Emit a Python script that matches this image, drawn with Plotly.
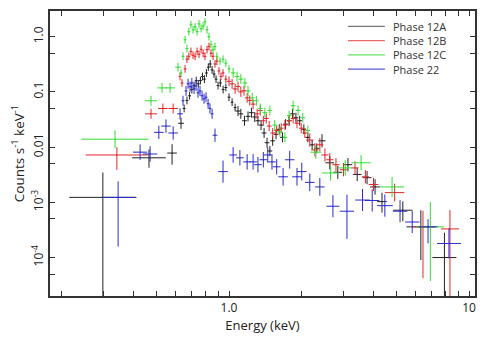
import plotly.graph_objects as go

# ---------------- data (Energy keV, Counts s^-1 keV^-1) ----------------
series_names = ["Phase 12A", "Phase 12B", "Phase 12C", "Phase 22"]
series_colors = ["#222222", "#e4262b", "#33dd33", "#2b2bd0"]
legend_colors = ["#777777", "#ec6a6a", "#66e066", "#5a5ad8"]

black_energy = [0.298, 0.464, 0.579, 0.631, 0.650, 0.668, 0.685, 0.70, 0.715, 0.73, 0.745, 0.76,
                0.775, 0.79, 0.805, 0.82, 0.835, 0.85, 0.866, 0.883, 0.90, 0.92, 0.945, 0.97,
                1.0, 1.03, 1.06, 1.09, 1.12, 1.16, 1.20, 1.24, 1.28, 1.32, 1.36, 1.40, 1.44,
                1.48, 1.52, 1.57, 1.62, 1.67, 1.72, 1.78, 1.84, 1.90, 1.97, 2.05, 2.13, 2.22,
                2.32, 2.44, 2.63, 2.84, 3.13, 3.42, 3.76, 4.06, 4.34, 5.3, 6.3, 7.9]
black_counts = [0.00123, 0.0064, 0.0078, 0.027, 0.05, 0.07, 0.085, 0.11, 0.13, 0.16, 0.14, 0.16,
                0.19, 0.17, 0.22, 0.28, 0.32, 0.25, 0.21, 0.17, 0.13, 0.145, 0.11, 0.12,
                0.08, 0.065, 0.052, 0.045, 0.04, 0.03, 0.036, 0.042, 0.035, 0.03, 0.025, 0.018, 0.012,
                0.0085, 0.013, 0.017, 0.021, 0.015, 0.026, 0.03, 0.04, 0.034, 0.03, 0.021, 0.015, 0.011,
                0.0095, 0.013, 0.0052, 0.0035, 0.0048, 0.0032, 0.0028, 0.0019, 0.00103, 0.00072, 0.00036, 0.0001]
black_xerr = [0.14, 0.07, 0.02, 0.012] + [0.006] * 23 + [0.01] * 24 + [0.015] + [0.018] * 5 + \
             [0.02, 0.02, 0.04, 0.06, 0.05]
black_yup = [0.45, 0.15, 0.16, 0.1] + [0.07] * 23 + [0.09] * 24 + [0.12] * 6 + [0.14, 0.16, 0.16, 0.3, 0.45]
black_ydn = [3.0, 0.18, 0.21, 0.1] + [0.07] * 23 + [0.09] * 24 + [0.12] * 6 + [0.14, 0.2, 0.2, 0.6, 3.0]

red_energy = [0.341, 0.473, 0.53, 0.585, 0.625, 0.637, 0.656, 0.668, 0.68, 0.694, 0.708, 0.722,
              0.736, 0.75, 0.765, 0.78, 0.794, 0.81, 0.825, 0.841, 0.858, 0.874, 0.89, 0.908,
              0.926, 0.944, 0.97, 1.0, 1.03, 1.06, 1.09, 1.12, 1.155, 1.19, 1.22, 1.26, 1.31,
              1.35, 1.39, 1.43, 1.47, 1.52, 1.58, 1.65, 1.71, 1.78, 1.85, 1.92, 2.0, 2.07,
              2.17, 2.28, 2.39, 2.51, 2.63, 2.79, 3.0, 3.35, 3.7, 4.0, 4.9, 6.43, 8.33]
red_counts = [0.0072, 0.040, 0.05, 0.05, 0.19, 0.145, 0.26, 0.39, 0.44, 0.54, 0.46, 0.44,
              0.54, 0.48, 0.59, 0.5, 0.44, 0.58, 0.66, 0.5, 0.44, 0.32, 0.36, 0.24,
              0.19, 0.22, 0.17, 0.155, 0.14, 0.113, 0.125, 0.1, 0.105, 0.078, 0.07, 0.06, 0.04,
              0.046, 0.03, 0.033, 0.024, 0.018, 0.02, 0.022, 0.025, 0.03, 0.033, 0.027, 0.022, 0.018,
              0.0134, 0.0089, 0.011, 0.0072, 0.0059, 0.0048, 0.0039, 0.0042, 0.0029, 0.0021,
              0.0015, 0.00036, 0.00033]
red_xerr = [0.13, 0.025, 0.02, 0.02] + [0.006] * 23 + [0.01] * 23 + [0.015] * 9 + [0.02] + [0.04, 0.045, 0.038]
red_yup = [0.14, 0.09, 0.09, 0.09] + [0.07] * 23 + [0.09] * 23 + [0.12] * 10 + [0.16, 0.29, 0.34]
red_ydn = [0.27, 0.09, 0.09, 0.09] + [0.07] * 23 + [0.09] * 23 + [0.12] * 10 + [0.16, 0.93, 3.0]

green_energy = [0.335, 0.473, 0.526, 0.568, 0.613, 0.631, 0.643, 0.656, 0.668, 0.68, 0.694, 0.708,
                0.722, 0.736, 0.75, 0.765, 0.78, 0.794, 0.81, 0.825, 0.841, 0.858, 0.874, 0.89,
                0.917, 0.944, 0.97, 1.0, 1.04, 1.08, 1.12, 1.165, 1.2, 1.25, 1.3, 1.35, 1.41,
                1.48, 1.55, 1.63, 1.71, 1.78, 1.85, 1.94, 2.03, 2.13, 2.3, 2.65, 3.05, 3.55, 4.78, 6.9]
green_counts = [0.0139, 0.069, 0.118, 0.118, 0.28, 0.22, 0.44, 0.88, 0.61, 1.23, 1.64, 1.33,
                1.5, 1.23, 1.7, 1.4, 1.55, 1.85, 1.33, 1.0, 0.72, 0.58, 0.66, 0.44,
                0.36, 0.39, 0.33, 0.26, 0.22, 0.19, 0.17, 0.145, 0.104, 0.078, 0.069, 0.05, 0.042,
                0.046, 0.025, 0.019, 0.015, 0.037, 0.056, 0.046, 0.034, 0.02, 0.0081, 0.0034,
                0.0042, 0.0052, 0.0019, 0.00036]
green_xerr = [0.14, 0.025, 0.02, 0.02, 0.012] + [0.006] * 23 + [0.01] * 18 + [0.023, 0.035, 0.03, 0.04, 0.05, 0.058]
green_yup = [0.16, 0.09, 0.09, 0.09, 0.08] + [0.07] * 23 + [0.09] * 18 + [0.12, 0.14, 0.14, 0.14, 0.18, 0.45]
green_ydn = [0.16, 0.09, 0.09, 0.09, 0.08] + [0.07] * 23 + [0.09] * 18 + [0.12, 0.14, 0.14, 0.14, 0.18, 0.98]

blue_energy = [0.345, 0.426, 0.469, 0.51, 0.546, 0.585, 0.625, 0.643, 0.662, 0.675, 0.688, 0.70,
               0.715, 0.729, 0.743, 0.757, 0.772, 0.787, 0.802, 0.818, 0.833, 0.85, 0.874, 0.944,
               1.04, 1.11, 1.19, 1.26, 1.32, 1.39, 1.45, 1.51, 1.58, 1.68, 1.79, 1.92, 2.01,
               2.17, 2.39, 2.71, 3.1, 3.6, 3.95, 4.46, 5.16, 5.8, 6.75, 8.25]
blue_counts = [0.00123, 0.0081, 0.0075, 0.0185, 0.024, 0.018, 0.04, 0.069, 0.104, 0.14, 0.124, 0.145,
               0.113, 0.128, 0.096, 0.104, 0.085, 0.075, 0.08, 0.061, 0.05, 0.04, 0.0164, 0.0036,
               0.0072, 0.0064, 0.0054, 0.0054, 0.0048, 0.0059, 0.0072, 0.0054, 0.0044, 0.0029,
               0.0059, 0.0029, 0.0036, 0.0023, 0.0019, 0.00085, 0.00069, 0.0011, 0.00108,
               0.00087, 0.00069, 0.00044, 0.00036, 0.00018]
blue_xerr = [0.07, 0.03, 0.03, 0.02, 0.02, 0.02, 0.012] + [0.006] * 15 + [0.01, 0.02] + [0.016] * 9 + \
            [0.02] * 6 + [0.027, 0.03, 0.03, 0.03, 0.033, 0.03, 0.03, 0.04, 0.05]
blue_yup = [0.29, 0.14, 0.14, 0.12, 0.12, 0.12, 0.1] + [0.09] * 15 + [0.12, 0.2] + [0.14] * 9 + \
           [0.16] * 6 + [0.2, 0.3, 0.2, 0.2, 0.2, 0.2, 0.2, 0.14, 0.27]
blue_ydn = [0.89, 0.14, 0.14, 0.12, 0.12, 0.12, 0.1] + [0.09] * 15 + [0.12, 0.2] + [0.14] * 9 + \
           [0.16] * 6 + [0.2, 0.5, 0.2, 0.2, 0.2, 0.2, 0.2, 0.3, 0.27]

x_major_vals = [1, 10]
x_major_text = ["1.0", "10"]
x_minor_vals = [0.2, 0.3, 0.4, 0.5, 0.6, 0.7, 0.8, 0.9, 2, 3, 4, 5, 6, 7, 8, 9]
y_major_vals = [1e-4, 1e-3, 1e-2, 0.1, 1]
y_major_text = ["10<sup>-4</sup>", "10<sup>-3</sup>", "0.01", "0.1", "1.0"]
y_minor_vals = [5e-5, 5e-4, 5e-3, 5e-2, 0.5]

all_series = [
    (black_energy, black_counts, black_xerr, black_yup, black_ydn),
    (red_energy, red_counts, red_xerr, red_yup, red_ydn),
    (green_energy, green_counts, green_xerr, green_yup, green_ydn),
    (blue_energy, blue_counts, blue_xerr, blue_yup, blue_ydn),
]

FONT = "Open Sans"
fig = go.Figure()
for (E, F, xd, yu, yd), name, col in zip(all_series, series_names, series_colors):
    ex_p = [e * (10 ** d - 1) for e, d in zip(E, xd)]
    ex_m = [e * (1 - 10 ** -d) for e, d in zip(E, xd)]
    ey_p = [f * (10 ** d - 1) for f, d in zip(F, yu)]
    ey_m = [f * (1 - 10 ** -d) for f, d in zip(F, yd)]
    fig.add_trace(go.Scatter(
        x=E, y=F, mode="markers", name=name,
        marker=dict(size=1, color=col),
        error_x=dict(type="data", symmetric=False, array=ex_p, arrayminus=ex_m,
                     color=col, thickness=1, width=0),
        error_y=dict(type="data", symmetric=False, array=ey_p, arrayminus=ey_m,
                     color=col, thickness=1, width=0),
        showlegend=False,
    ))

# legend drawn as line samples + text labels
legend_rows_y = [0.946, 0.896, 0.846, 0.796]
for name, col, yy in zip(series_names, legend_colors, legend_rows_y):
    fig.add_shape(type="line", xref="paper", yref="paper", x0=0.701, x1=0.788, y0=yy, y1=yy,
                  line=dict(color=col, width=1.2))
    fig.add_annotation(xref="paper", yref="paper", x=0.805, y=yy, text=name, showarrow=False,
                       xanchor="left", yanchor="middle", borderpad=0,
                       font=dict(family=FONT, size=11, color="#333333"))

axis_common = dict(
    type="log", ticks="inside", ticklen=5, tickwidth=1.2, tickcolor="#333333",
    showline=True, linecolor="#333333", linewidth=1.5, mirror="allticks",
    showgrid=False, zeroline=False,
    tickfont=dict(family=FONT, size=12, color="#222222"),
)
minor_common = dict(ticks="inside", ticklen=5, tickwidth=1.2, tickcolor="#333333", showgrid=False)

fig.update_xaxes(**axis_common, range=[-0.746, 1.025], tickvals=x_major_vals, ticktext=x_major_text,
                 tickangle=0, minor=dict(tickvals=x_minor_vals, **minor_common),
                 title=dict(text="Energy (keV)", standoff=4,
                            font=dict(family=FONT, size=13, color="#222222")))
fig.update_yaxes(**axis_common, range=[-4.696, 0.464], tickvals=y_major_vals, ticktext=y_major_text,
                 tickangle=-90, minor=dict(tickvals=y_minor_vals, **minor_common),
                 title=dict(text="Counts s<sup>-1</sup> keV<sup>-1</sup>", standoff=2,
                            font=dict(family=FONT, size=13.5, color="#222222")))

fig.update_layout(
    width=488, height=338,
    margin=dict(l=50, r=13, t=9, b=40),
    paper_bgcolor="white", plot_bgcolor="white",
    showlegend=False,
    font=dict(family=FONT, size=12, color="#222222"),
)

fig.write_html("out.html", config={"displayModeBar": False},
               post_script="document.body.style.margin='0';")
